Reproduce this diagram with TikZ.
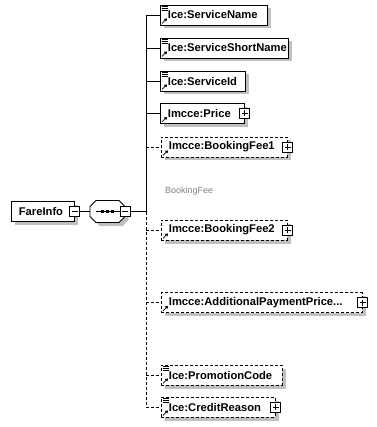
\documentclass[tikz,border=0pt]{standalone}
\usepackage{fontspec}
\setmainfont{Liberation Sans}
\usetikzlibrary{shadows,arrows.meta}
\definecolor{shadowgray}{RGB}{192,192,192}
\definecolor{notegray}{RGB}{128,128,128}
\newcommand\elfont{\fontsize{11.2}{13}\selectfont\bfseries}
\newcommand\elbox[2]{\makebox[#1pt][l]{\hspace*{7.5pt}#2}}
\newcommand\linesicon[1]{\draw[line width=0.7pt] ([shift={(1.5,1.8)}]#1.north west) -- ++(6,0) ([shift={(1.5,3.6)}]#1.north west) -- ++(6,0) ([shift={(1.5,5.4)}]#1.north west) -- ++(6,0);}
\newcommand\refarrow[1]{\draw[line width=0.8pt,-{Triangle[length=2.6pt,width=3.2pt]}] ([shift={(2,-2)}]#1.south west) -- ++(5,-5);}
\begin{document}
\begin{tikzpicture}[x=1pt,y=-1pt,
  elem/.style={draw, line width=0.8pt, fill=white, inner sep=0pt, minimum height=20pt, anchor=west, font=\elfont,
    drop shadow={shadow xshift=3.5pt, shadow yshift=-3.5pt, fill=shadowgray, opacity=1}},
  opt/.style={elem, dash pattern=on 3pt off 2pt},
  optline/.style={line width=0.8pt, dash pattern=on 3pt off 2pt},
  conn/.style={line width=0.8pt},
  signbox/.style={draw, solid, fill=white, line width=0.8pt, minimum size=10pt, inner sep=0pt},
  plusbox/.style={signbox, path picture={
      \draw[line width=0.8pt] ([xshift=2pt]path picture bounding box.west) -- ([xshift=-2pt]path picture bounding box.east);
      \draw[line width=0.8pt] ([yshift=2pt]path picture bounding box.south) -- ([yshift=-2pt]path picture bounding box.north);}},
  minusbox/.style={signbox, path picture={
      \draw[line width=0.8pt] ([xshift=2pt]path picture bounding box.west) -- ([xshift=-2pt]path picture bounding box.east);}}
]
\useasboundingbox (0,0) rectangle (376,427);

% root element
\node[elem] (fi) at (11,211.5) {\elbox{63}{FareInfo}};
\node[minusbox] (fim) at (fi.east) {};

% sequence compositor
\node[minimum width=35pt, minimum height=22pt, inner sep=0pt] (comp) at (107.5,211.5) {};
\begin{scope}[shift={(107.5,211.5)}]
  \draw[line width=0.8pt, fill=white, drop shadow={shadow xshift=3.5pt, shadow yshift=-3.5pt, fill=shadowgray, opacity=1}]
    (-17.5,-5) -- (-11.5,-11) -- (11.5,-11) -- (17.5,-5) -- (17.5,5) -- (11.5,11) -- (-11.5,11) -- (-17.5,5) -- cycle;
  \draw[line width=0.8pt] (-12,0) -- (12,0);
  \fill (-6.5,-1.3) rectangle (-3.5,1.3);
  \fill (-1.5,-1.3) rectangle (1.5,1.3);
  \fill (3.5,-1.3) rectangle (6.5,1.3);
\end{scope}
\node[minusbox] (cm) at (comp.east) {};
\draw[conn] (fim.east) -- (comp.west);

% children
\node[elem] (sn)  at (160,15)  {\elbox{107}{Ice:ServiceName}};
\node[elem] (ssn) at (160,48)  {\elbox{128}{Ice:ServiceShortName}};
\node[elem] (sid) at (160,81)  {\elbox{85}{Ice:ServiceId}};
\node[elem] (pr)  at (160,113.5) {\elbox{84}{Imcce:Price}};
\node[opt]  (bf1) at (161,147) {\elbox{126}{Imcce:BookingFee1}};
\node[opt]  (bf2) at (161,230) {\elbox{126}{Imcce:BookingFee2}};
\node[opt]  (app) at (161,302.5) {\elbox{201}{Imcce:AdditionalPaymentPrice...}};
\node[opt]  (pc)  at (161,375) {\elbox{121}{Ice:PromotionCode}};
\node[opt]  (cr)  at (161,407) {\elbox{114}{Ice:CreditReason}};

\node[anchor=west, inner sep=0pt, font=\fontsize{9}{11}\selectfont, text=notegray] (bfl) at (165,191) {BookingFee};

% icons
\linesicon{sn}\linesicon{ssn}\linesicon{sid}\linesicon{pc}\linesicon{cr}
\refarrow{sn}\refarrow{ssn}\refarrow{sid}\refarrow{pr}\refarrow{bf1}\refarrow{bf2}\refarrow{app}\refarrow{pc}\refarrow{cr}

% expand boxes
\node[plusbox] (ppr)  at (pr.east)  {};
\node[plusbox] (pbf1) at (bf1.east) {};
\node[plusbox] (pbf2) at (bf2.east) {};
\node[plusbox] (papp) at (app.east) {};
\node[plusbox] (pcr)  at (cr.east)  {};

% spine and connectors
\coordinate (top) at (146,15);
\coordinate (jn) at (cm.east -| top);
\draw[conn] (cm.east) -- (jn);
\draw[conn] (top) -- (jn);
\draw[optline] (jn) -- (cr.west -| top);
\draw[conn] (top) -- (sn.west);
\draw[conn] (ssn.west -| top) -- (ssn.west);
\draw[conn] (sid.west -| top) -- (sid.west);
\draw[conn] (pr.west -| top) -- (pr.west);
\draw[optline] (bf1.west -| top) -- (bf1.west);
\draw[optline] (bf2.west -| top) -- (bf2.west);
\draw[optline] (app.west -| top) -- (app.west);
\draw[optline] (pc.west -| top) -- (pc.west);
\draw[optline] (cr.west -| top) -- (cr.west);
\end{tikzpicture}
\end{document}
